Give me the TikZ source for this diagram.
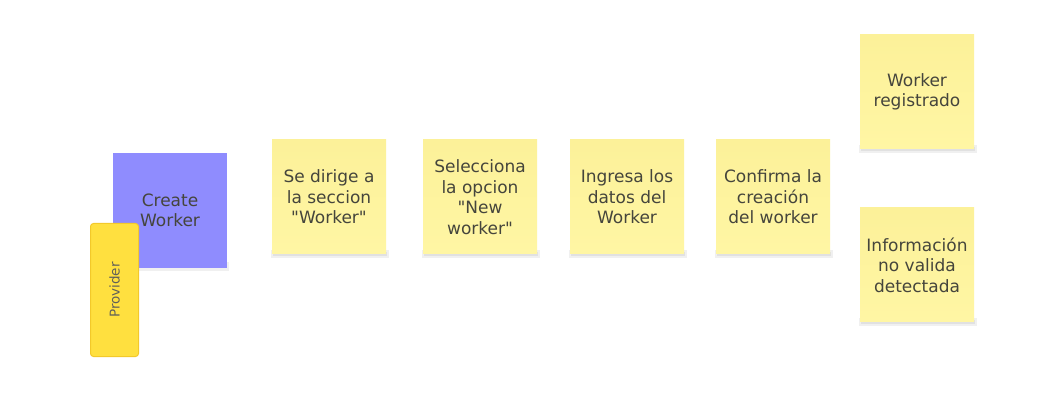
\documentclass[tikz,border=0pt]{standalone}
\usepackage{fontspec}
\setmainfont{DejaVu Sans}[Ligatures=TeXOff]
\definecolor{notetop}{HTML}{FCF199}
\definecolor{notebot}{HTML}{FFF6A4}
\definecolor{purp}{HTML}{8F8CFE}
\definecolor{prov}{HTML}{FFE03F}
\definecolor{provline}{HTML}{F3C92A}
\definecolor{txt}{HTML}{45453C}
\tikzset{
  x=1pt, y=-1pt,
  shad/.style={fill=black, opacity=0.06},
  note/.style={minimum width=114pt, minimum height=114pt, inner sep=0pt,
    top color=notetop, bottom color=notebot, draw=none,
    align=center, text=txt, font=\fontsize{17}{20.5}\selectfont},
  actor/.style={minimum width=114pt, minimum height=115pt, inner sep=0pt,
    fill=purp, align=center, text=txt, font=\fontsize{17}{20.5}\selectfont},
  role/.style={minimum width=48pt, minimum height=133pt, inner sep=0pt,
    fill=prov, draw=provline, line width=1pt, rounded corners=3pt,
    text=txt!85, font=\fontsize{13.5}{16}\selectfont}
}
\newcommand{\notebox}[4]{%
  \fill[shad] (#2-1,#3+110) rectangle (#2+117,#3+118);
  \fill[shad] (#2+1,#3+112) rectangle (#2+115,#3+116);
  \node[note] (#1) at (#2+57,#3+57) {#4};}
\begin{document}
\begin{tikzpicture}
\useasboundingbox[fill=white] (0,0) rectangle (1046,419);
% Create Worker
\fill[shad] (112,262) rectangle (229,271);
\node[actor] (cw) at (170,210.5) {Create\\Worker};
% Provider
\node[role] (pv) at (114.5,290) {\rotatebox{90}{Provider}};
% notes
\notebox{n1}{272}{140}{Se dirige a\\la seccion\\"Worker"}
\notebox{n2}{423}{140}{Selecciona\\la opcion\\"New\\worker"}
\notebox{n3}{570}{140}{Ingresa los\\datos del\\Worker}
\notebox{n4}{716}{140}{Confirma la\\creación\\del worker}
\notebox{n5}{860}{35}{Worker\\registrado}
\notebox{n6}{860}{208}{Información\\no valida\\detectada}
\end{tikzpicture}
\end{document}
